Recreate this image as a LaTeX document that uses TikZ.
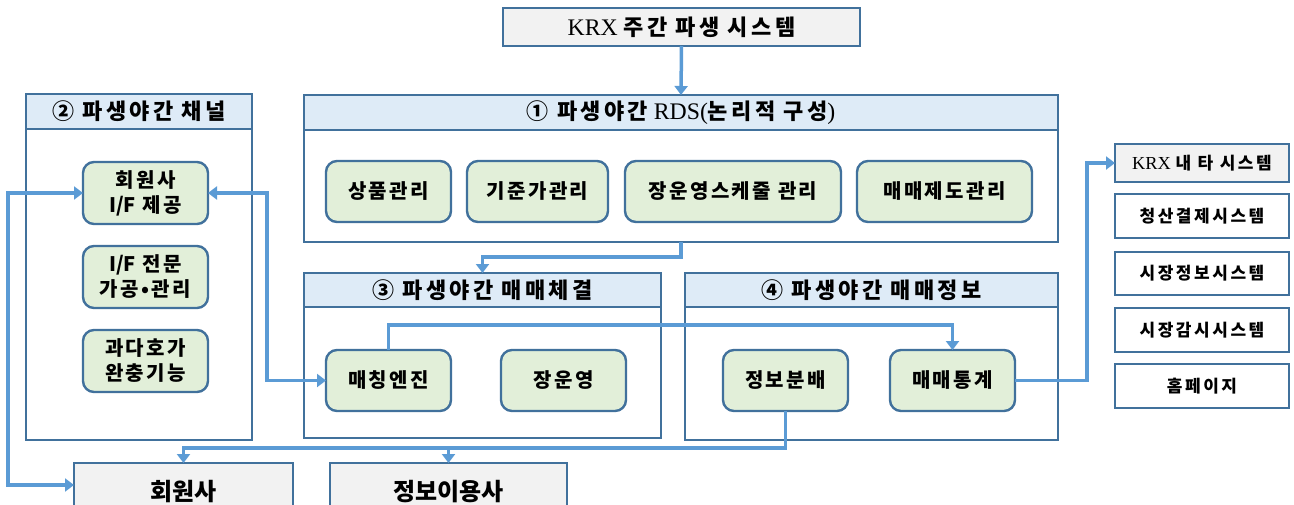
\documentclass[tikz,border=0pt]{standalone}
\usepackage{fontspec}
\setmainfont[Scale=1.08]{Liberation Serif}
\newfontfamily\kr{Noto Sans CJK KR}
\newfontfamily\krs[LetterSpace=15]{Noto Sans CJK KR}
\newfontfamily\krg[LetterSpace=12]{Noto Sans CJK KR}
\usetikzlibrary{arrows.meta}
\definecolor{bd}{HTML}{41719C}
\definecolor{ac}{HTML}{5B9BD5}
\definecolor{hdr}{HTML}{DEEBF7}
\definecolor{grn}{HTML}{E2EFD9}
\definecolor{gry}{HTML}{F2F2F2}
\newcommand\hk[1]{{\krs\bfseries #1}}
\newcommand\bx[7]{\node[#6, minimum width={#4-#2}, minimum height={#5-#3}] (#1) at ({(#2+#4)/2},{(#3+#5)/2}) {#7};}
\tikzset{
  base/.style={draw=bd, line width=2.4pt, inner sep=0pt, outer sep=0pt, align=center},
  frame/.style={base, fill=white},
  hdrbox/.style={base, fill=hdr, font=\fontsize{22}{25}\selectfont},
  gbox/.style={base, fill=grn, rounded corners=11pt, font=\fontsize{20}{25}\selectfont\krg\bfseries},
  sysbox/.style={base, fill=white, font=\fontsize{17}{20}\selectfont},
  topbox/.style={base, fill=gry, font=\fontsize{22}{25}\selectfont},
  botbox/.style={base, fill=gry, font=\fontsize{24}{28}\selectfont},
  arr/.style={draw=ac, line width=3.5pt, -{Triangle[length=9pt,width=13pt]}},
  arrb/.style={draw=ac, line width=3.5pt, {Triangle[length=9pt,width=13pt]}-{Triangle[length=9pt,width=13pt]}}
}
\begin{document}
\begin{tikzpicture}[x=1pt,y=-1pt]
\useasboundingbox (0,0) rectangle (1294,504);
\clip (0,0) rectangle (1294,504);
% top system
\bx{krx}{503}{8}{860}{46}{topbox}{\raisebox{-4pt}{KRX \hk{주간 파생 시스템}}}
% containers
\bx{c1}{304}{95}{1058}{242}{frame}{}
\bx{c1h}{304}{95}{1058}{130}{hdrbox}{\raisebox{-2pt}{\hk{① 파생야간} RDS(\hk{논리적 구성})}}
\bx{c2}{26}{94}{252}{440}{frame}{}
\bx{c2h}{26}{94}{252}{129}{hdrbox}{\raisebox{-2pt}{\hk{② 파생야간 채널}}}
\bx{c3}{304}{273}{661}{438}{frame}{}
\bx{c3h}{304}{273}{661}{307}{hdrbox}{\raisebox{-2pt}{\hk{③ 파생야간 매매체결}}}
\bx{c4}{685}{273}{1058}{440}{frame}{}
\bx{c4h}{685}{273}{1058}{307}{hdrbox}{\raisebox{-2pt}{\hk{④ 파생야간 매매정보}}}
% green boxes
\bx{sp}{326}{161}{451}{222}{gbox}{상품관리}
\bx{gj}{467}{161}{608}{222}{gbox}{기준가관리}
\bx{js}{625}{161}{841}{222}{gbox}{장운영스케줄 관리}
\bx{mj}{857}{161}{1032}{222}{gbox}{매매제도관리}
\bx{if1}{83}{162}{208}{224}{gbox}{회원사\\{\kr\bfseries I/F} 제공}
\bx{if2}{83}{246}{208}{308}{gbox}{{\kr\bfseries I/F} 전문\\가공•관리}
\bx{if3}{83}{330}{208}{392}{gbox}{과다호가\\완충기능}
\bx{me}{326}{350}{451}{411}{gbox}{매칭엔진}
\bx{jy}{501}{350}{626}{411}{gbox}{장운영}
\bx{ib}{723}{350}{848}{411}{gbox}{정보분배}
\bx{mt}{890}{350}{1015}{411}{gbox}{매매통계}
% right column
\bx{krxo}{1115}{144}{1289}{182}{sysbox,fill=gry}{KRX {\krs\bfseries 내 타 시스템}}
\bx{s1}{1115}{194}{1289}{238}{sysbox}{\raisebox{-2pt}{\krs\bfseries 청산결제시스템}}
\bx{s2}{1115}{252}{1289}{295}{sysbox}{\raisebox{-2pt}{\krs\bfseries 시장정보시스템}}
\bx{s3}{1115}{308}{1289}{352}{sysbox}{\raisebox{-2pt}{\krs\bfseries 시장감시시스템}}
\bx{s4}{1115}{364}{1289}{408}{sysbox}{\raisebox{-2pt}{\krs\bfseries 홈페이지}}
% bottom
\bx{mem}{74}{463}{293}{520}{botbox}{{\kr\bfseries 회원사}}
\bx{info}{330}{463}{567}{520}{botbox}{{\kr\bfseries 정보이용사}}
% helper coordinates
\coordinate (yA) at (0,257);
\coordinate (yB) at (0,325);
\coordinate (xC) at (1087,0);
\coordinate (xD) at (267,0);
\coordinate (xE) at (8,0);
\coordinate (yE) at (0,485);
\coordinate (yF) at (0,448);
% connectors
\draw[arr] (krx.south) -- (c1.north);
\draw[arr] (c1.south) -- (c1.south |- yA) -| (c3h.north);
\draw[arr] (me.north) -- (me.north |- yB) -| (mt.north);
\draw[arr] (mt.east) -- (xC |- mt.east) |- (krxo.west);
\draw[arrb] (if1.east) -- (xD |- if1.east) |- (me.west);
\draw[arrb] (mem.west |- yE) -- (xE |- yE) |- (if1.west);
\draw[arr] (ib.south) -- (ib.south |- yF) -| (mem.north);
\draw[arr] (ib.south) -- (ib.south |- yF) -| (info.north);
\end{tikzpicture}
\end{document}
